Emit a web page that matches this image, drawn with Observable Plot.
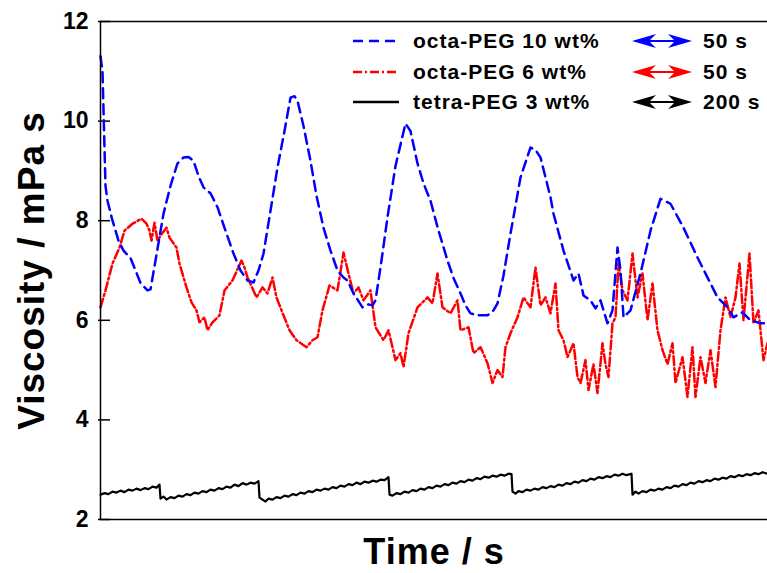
<!DOCTYPE html>
<html>
<head>
<meta charset="utf-8">
<script src="https://cdn.jsdelivr.net/npm/d3@7"></script>
<script src="https://cdn.jsdelivr.net/npm/@observablehq/plot@0.6"></script>
<style>
  html, body { margin: 0; padding: 0; background: #fff; }
  #wrap { position: relative; width: 767px; height: 573px; font-family: "Liberation Sans", Arial, sans-serif; }
  #legend { position: absolute; left: 0; top: 0; pointer-events: none; }
</style>
</head>
<body>
<div id="wrap">
  <div id="chart"></div>
  <svg id="legend" width="767" height="130"></svg>
</div>
<script>
// ---- data (time in arbitrary seconds units across the visible window) ----
const timeDomain = [0, 667];
const yTicks = [2, 4, 6, 8, 10, 12];

const octa10Time = [0,2,5,7,12,18,23,30,35,40,47,50,55,63,70,77,83,88,93,98,103,110,117,125,133,140,147,153,158,163,170,177,184,190,194,197,203,210,216,223,230,237,243,247,253,262,268,272,275,281,287,295,305,310,317,323,330,338,347,353,360,365,370,377,387,393,397,403,410,415,420,430,435,440,450,453,463,473,478,483,490,495,500,507,512,517,520,523,530,540,550,560,570,583,597,610,617,627,633,642,650,660,667];
const octa10Visc = [11.3,11.0,8.7,8.4,8.0,7.6,7.4,7.25,7.0,6.75,6.6,6.62,7.2,8.14,8.7,9.15,9.27,9.28,9.2,8.9,8.67,8.55,8.27,7.8,7.34,7.0,6.8,6.76,7.0,7.34,8.2,9.07,9.8,10.47,10.5,10.41,9.9,9.2,8.5,7.86,7.4,7.0,6.86,6.8,6.54,6.26,6.32,6.3,6.4,7.2,8.07,9.1,9.95,9.8,9.15,8.75,8.4,7.8,7.2,6.85,6.54,6.3,6.14,6.1,6.1,6.2,6.34,6.9,7.74,8.3,8.87,9.47,9.42,9.27,8.47,8.14,7.4,6.8,6.94,6.5,6.4,6.24,6.4,5.94,6.2,7.46,7.0,6.06,6.2,6.94,7.8,8.44,8.34,7.86,7.26,6.74,6.46,6.26,6.06,6.16,6.0,5.94,5.94];

const octa6Time = [0,5,12,19,24,32,41,46,49,51,54,57,60,66,69,76,79,86,91,96,99,104,107,112,119,124,132,141,144,147,156,162,167,172,176,181,189,196,206,212,217,222,229,237,243,248,253,258,263,270,275,283,288,295,300,303,308,317,327,332,337,342,350,357,360,368,373,380,387,392,397,402,405,410,417,423,430,435,440,445,450,455,458,463,467,473,477,480,485,488,493,497,502,505,508,512,515,518,522,527,532,537,542,547,552,557,562,567,572,575,582,587,592,595,600,605,610,615,620,625,630,635,639,643,649,653,658,663,667];
const octa6Visc = [6.26,6.6,7.14,7.46,7.8,7.94,8.04,7.94,7.8,7.6,7.96,7.6,7.7,7.86,7.66,7.46,7.14,6.66,6.36,6.2,5.96,6.06,5.8,5.96,6.1,6.6,6.8,7.2,7.06,6.86,6.46,6.66,6.54,6.86,6.46,6.2,5.8,5.6,5.46,5.6,5.66,6.2,6.7,6.6,7.36,6.94,6.54,6.66,6.4,6.6,5.86,5.6,5.8,5.2,5.34,5.06,5.74,6.26,6.46,6.34,6.94,6.26,6.14,6.4,5.8,5.86,5.34,5.46,5.14,4.74,5.0,4.86,5.46,5.74,6.06,6.46,6.26,7.06,6.3,6.46,6.14,6.74,5.8,5.6,5.26,5.54,4.86,4.74,5.2,4.6,5.12,4.54,5.54,5.12,4.86,5.94,6.06,7.14,6.6,6.4,7.34,6.46,6.94,6.0,6.74,5.8,5.4,5.12,5.54,4.74,5.26,4.46,5.46,4.46,5.26,4.74,5.4,4.66,5.8,6.46,6.06,6.46,7.14,6.0,7.34,5.94,6.2,5.2,5.54];

const tetra3Time = [0,4,8,12,16,20,24,28,32,36,40,44,48,52,56,59,60,63,66,70,74,78,82,86,90,94,98,102,106,110,114,118,122,126,130,134,138,142,146,150,154,158,159,162,165,168,172,176,180,184,188,192,196,200,204,208,212,216,220,224,228,232,236,240,244,248,252,256,260,264,268,272,276,280,284,288,289,292,296,300,304,308,312,316,320,324,328,332,336,340,344,348,352,356,360,364,368,372,376,380,384,388,392,396,400,404,408,411,412,415,418,422,426,430,434,438,442,446,450,454,458,462,466,470,474,478,482,486,490,494,498,502,506,510,514,518,522,526,531,532,535,538,542,546,550,554,558,562,566,570,574,578,582,586,590,594,598,602,606,610,614,618,622,626,630,634,638,642,646,650,654,658,662,667];
const tetra3Visc = [2.50,2.53,2.51,2.56,2.54,2.58,2.55,2.60,2.58,2.62,2.59,2.63,2.61,2.66,2.64,2.70,2.42,2.46,2.40,2.45,2.43,2.48,2.46,2.51,2.49,2.54,2.52,2.57,2.55,2.60,2.58,2.63,2.61,2.66,2.64,2.70,2.67,2.73,2.70,2.74,2.72,2.77,2.44,2.40,2.36,2.42,2.40,2.45,2.43,2.48,2.46,2.51,2.49,2.54,2.52,2.57,2.55,2.60,2.58,2.62,2.60,2.65,2.63,2.68,2.66,2.71,2.69,2.74,2.71,2.76,2.74,2.78,2.76,2.80,2.79,2.85,2.50,2.48,2.53,2.51,2.56,2.54,2.59,2.57,2.62,2.60,2.65,2.63,2.68,2.66,2.71,2.69,2.74,2.72,2.77,2.75,2.80,2.78,2.83,2.81,2.86,2.84,2.88,2.86,2.90,2.88,2.92,2.91,2.56,2.52,2.57,2.55,2.60,2.58,2.62,2.60,2.65,2.63,2.67,2.65,2.70,2.68,2.73,2.71,2.76,2.74,2.79,2.77,2.82,2.80,2.85,2.83,2.87,2.85,2.90,2.88,2.92,2.89,2.92,2.50,2.56,2.52,2.57,2.55,2.60,2.58,2.62,2.60,2.65,2.63,2.68,2.66,2.71,2.69,2.74,2.72,2.77,2.75,2.79,2.77,2.82,2.80,2.84,2.82,2.87,2.85,2.89,2.87,2.91,2.89,2.93,2.91,2.95,2.92];

const seriesNames = ["octa-PEG 10 wt%", "octa-PEG 6 wt%", "tetra-PEG 3 wt%"];
const seriesColors = ["#0000ff", "#ff0000", "#000000"];
const arrowLabels = ["50 s", "50 s", "200 s"];

// ---- build tables ----
const toRows = (ts, vs) => ts.map((t, i) => ({time: t, visc: vs[i]}));
const octa10 = toRows(octa10Time, octa10Visc);
const octa6 = toRows(octa6Time, octa6Visc);
const tetra3 = toRows(tetra3Time, tetra3Visc);

const pxPerUnit = 667 / (timeDomain[1] - timeDomain[0]);
const FONT = '"Liberation Sans", Arial, sans-serif';

const chart = Plot.plot({
  width: 767,
  height: 573,
  marginLeft: 100,
  marginRight: 0,
  marginTop: 21,
  marginBottom: 54,
  style: {fontFamily: FONT, fontWeight: "bold", background: "#fff", color: "#000"},
  x: {domain: timeDomain, axis: null},
  y: {domain: [2, 12], ticks: yTicks},
  marks: [
    Plot.axisY({ticks: yTicks, tickSize: 0, tickPadding: 12, fontSize: 23, fontWeight: "bold", label: null, tickFormat: d => String(d)}),
    Plot.ruleY(yTicks, {x1: timeDomain[0] - 2 / pxPerUnit, x2: timeDomain[0] + 10 / pxPerUnit, stroke: "#000", strokeWidth: 1.5}),
    Plot.line(tetra3, {x: "time", y: "visc", stroke: seriesColors[2], strokeWidth: 2.2}),
    Plot.line(octa6, {x: "time", y: "visc", stroke: seriesColors[1], strokeWidth: 2.5, strokeDasharray: "9,3,2,3"}),
    Plot.line(octa10, {x: "time", y: "visc", stroke: seriesColors[0], strokeWidth: 2.5, strokeDasharray: "10,6"}),
    Plot.ruleY([2, 12], {stroke: "#000", strokeWidth: 1.5}),
    Plot.ruleX([timeDomain[0]], {stroke: "#000", strokeWidth: 1.5}),
    Plot.text(["Viscosity / mPa s"], {frameAnchor: "left", rotate: -90, dx: -68, fontSize: 37, fontWeight: "bold", fill: "#000", textAnchor: "middle", lineAnchor: "middle"}),
    Plot.text(["Time / s"], {frameAnchor: "bottom", dy: 33, fontSize: 36, fontWeight: "bold", fill: "#000", lineAnchor: "middle"})
  ]
});
document.getElementById("chart").appendChild(chart);
chart.querySelectorAll("text").forEach(t => { if ((t.textContent || "").length > 4) t.style.letterSpacing = "1px"; });

// ---- legend overlay ----
const ns = "http://www.w3.org/2000/svg";
const leg = document.getElementById("legend");
const rowY = [41, 72, 102];
const dashes = ["10,6", "9,3,2,3", null];
function el(name, attrs, text) {
  const e = document.createElementNS(ns, name);
  for (const k in attrs) e.setAttribute(k, attrs[k]);
  if (text) e.textContent = text;
  leg.appendChild(e);
  return e;
}
seriesNames.forEach((name, i) => {
  const y = rowY[i];
  const line = {x1: 353, x2: 399, y1: y, y2: y, stroke: seriesColors[i], "stroke-width": 2.5};
  if (dashes[i]) line["stroke-dasharray"] = dashes[i];
  el("line", line);
  el("text", {x: 413, y: y + 7, "font-family": FONT, "font-weight": "bold", "font-size": 21, fill: "#000", style: "letter-spacing:1px"}, name);
  // double-headed arrow
  const c = seriesColors[i];
  el("line", {x1: 644, x2: 680, y1: y, y2: y, stroke: c, "stroke-width": 2});
  el("path", {d: `M632,${y} L656,${y-7} L649,${y} L656,${y+7} Z`, fill: c});
  el("path", {d: `M692,${y} L668,${y-7} L675,${y} L668,${y+7} Z`, fill: c});
  el("text", {x: 703, y: y + 7, "font-family": FONT, "font-weight": "bold", "font-size": 21, fill: "#000", style: "letter-spacing:1px"}, arrowLabels[i]);
});
</script>
</body>
</html>
